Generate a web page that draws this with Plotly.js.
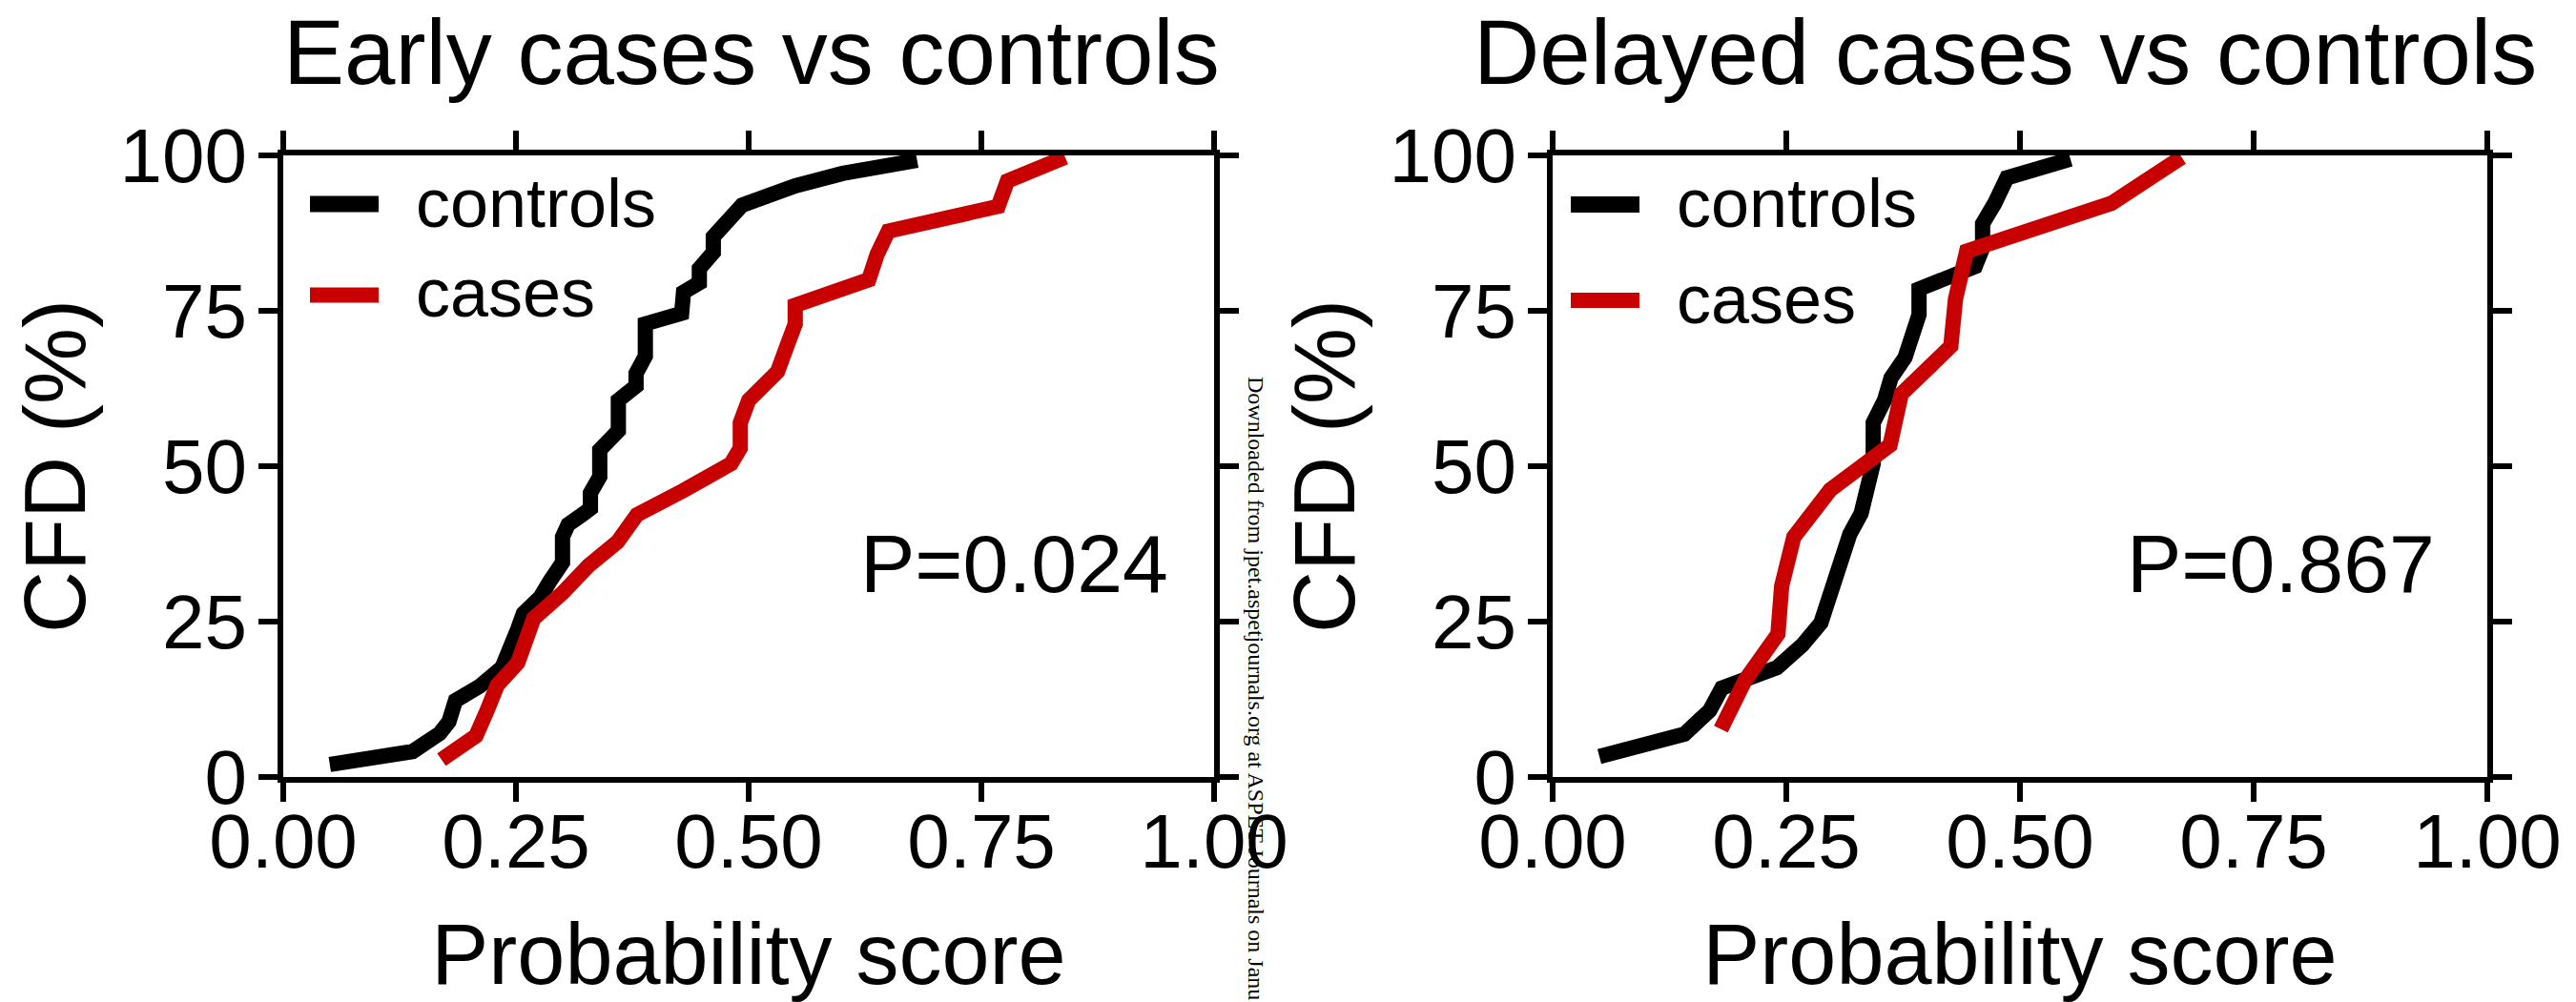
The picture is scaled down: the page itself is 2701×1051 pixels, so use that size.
<!DOCTYPE html>
<html>
<head>
<meta charset="utf-8">
<script src="https://cdn.plot.ly/plotly-3.0.1.min.js"></script>
<style>html,body{margin:0;padding:0;background:#fff;}#chart{width:2701px;height:1051px;}</style>
</head>
<body>
<div id="chart"></div>
<script>
// ---------------- data ----------------
const panelTitles = ['Early cases vs controls', 'Delayed cases vs controls'];
const pValueLabels = ['P=0.024', 'P=0.867'];
const seriesNames = ['controls', 'cases'];
const xAxisTitle = 'Probability score';
const yAxisTitle = 'CFD (%)';
const xTickValues = [0, 0.25, 0.5, 0.75, 1];
const xTickLabels = ['0.00', '0.25', '0.50', '0.75', '1.00'];
const yTickValues = [0, 25, 50, 75, 100];
const yTickLabels = ['0', '25', '50', '75', '100'];
const watermarkText = 'Downloaded from jpet.aspetjournals.org at ASPET Journals on Janu';

// Early cases vs controls
const earlyControlsScore = [0.050, 0.139, 0.168, 0.178, 0.185, 0.211, 0.235, 0.238, 0.243, 0.252, 0.258, 0.276, 0.286, 0.296, 0.300, 0.300, 0.306, 0.323, 0.330, 0.330, 0.339, 0.340, 0.340, 0.360, 0.360, 0.379, 0.379, 0.389, 0.389, 0.428, 0.430, 0.447, 0.447, 0.462, 0.462, 0.488, 0.493, 0.550, 0.601, 0.681];
const earlyControlsCFD   = [2.0, 4.1, 7.0, 8.9, 12.3, 14.6, 17.6, 18.9, 21.7, 23.8, 26.3, 28.9, 31.4, 33.5, 34.5, 38.6, 40.6, 42.4, 43.2, 45.7, 47.3, 48.3, 52.6, 55.7, 60.6, 62.9, 64.9, 67.7, 72.9, 74.6, 78.0, 79.5, 81.8, 84.4, 86.9, 91.3, 92.0, 95.1, 97.1, 99.2];
const earlyCasesScore = [0.170, 0.207, 0.219, 0.230, 0.252, 0.260, 0.269, 0.300, 0.328, 0.359, 0.380, 0.429, 0.481, 0.491, 0.491, 0.500, 0.531, 0.541, 0.550, 0.550, 0.629, 0.638, 0.650, 0.768, 0.778, 0.840];
const earlyCasesCFD   = [2.8, 6.6, 10.7, 14.8, 18.4, 22.7, 25.5, 29.6, 34.0, 37.8, 42.2, 46.0, 50.4, 52.9, 57.0, 60.6, 65.2, 69.3, 72.9, 75.9, 80.0, 84.1, 87.8, 91.8, 95.9, 99.7];

// Delayed cases vs controls
const delayedControlsScore = [0.050, 0.141, 0.168, 0.181, 0.240, 0.267, 0.287, 0.294, 0.301, 0.310, 0.318, 0.330, 0.335, 0.343, 0.343, 0.343, 0.355, 0.362, 0.377, 0.385, 0.392, 0.392, 0.452, 0.460, 0.460, 0.473, 0.486, 0.554];
const delayedControlsCFD   = [3.3, 6.9, 10.7, 14.3, 17.6, 21.2, 24.8, 28.4, 31.9, 36.0, 39.1, 42.4, 46.2, 50.4, 53.6, 57.0, 60.6, 64.2, 67.5, 71.3, 74.4, 78.5, 82.1, 85.1, 89.0, 92.3, 96.4, 99.4];
const delayedCasesScore = [0.180, 0.206, 0.241, 0.245, 0.258, 0.297, 0.361, 0.373, 0.426, 0.431, 0.443, 0.598, 0.673];
const delayedCasesCFD   = [7.7, 15.6, 23.0, 30.7, 38.6, 46.2, 53.4, 61.6, 69.3, 76.9, 84.6, 92.3, 99.7];

// ---------------- styling / layout ----------------
const W = 2701, H = 1051;
const FONT = 'Liberation Sans, Arial, Helvetica, sans-serif';
const SERIF = 'Liberation Serif, Times New Roman, serif';
const BLACK = '#000000';
const RED = '#c80000';
const LINE_W = 16;

const yDom = [(H - 815) / H, (H - 163) / H];
const xDomL = [297 / W, 1273 / W];
const xDomR = [1628 / W, 2608 / W];

function axis(extra) {
  return Object.assign({
    showline: true, linecolor: BLACK, linewidth: 6, mirror: 'ticks',
    ticks: 'outside', ticklen: 20, tickwidth: 6, tickcolor: BLACK,
    showgrid: false, zeroline: false, fixedrange: true,
    tickfont: {family: FONT, size: 80, color: BLACK}
  }, extra);
}
function xAx(domain, anchor) {
  return axis({domain: domain, anchor: anchor, range: [0, 1], tickmode: 'array',
    tickvals: xTickValues, ticktext: xTickLabels, ticklabelstandoff: -27,
    title: {text: xAxisTitle, font: {family: FONT, size: 90, color: BLACK}, standoff: 57}});
}
function yAx(anchor) {
  return axis({domain: yDom, anchor: anchor, range: [0, 100], tickmode: 'array',
    tickvals: yTickValues, ticktext: yTickLabels, ticklabelstandoff: -4,
    title: {text: yAxisTitle, font: {family: FONT, size: 90, color: BLACK}, standoff: 8}});
}

function line(x, y, color, xa, ya, name) {
  return {x: x, y: y, name: name, mode: 'lines', type: 'scatter', xaxis: xa, yaxis: ya,
    line: {color: color, width: LINE_W}, showlegend: false, hoverinfo: 'skip'};
}

const data = [
  line(earlyControlsScore, earlyControlsCFD, BLACK, 'x', 'y', seriesNames[0]),
  line(earlyCasesScore, earlyCasesCFD, RED, 'x', 'y', seriesNames[1]),
  line(delayedControlsScore, delayedControlsCFD, BLACK, 'x2', 'y2', seriesNames[0]),
  line(delayedCasesScore, delayedCasesCFD, RED, 'x2', 'y2', seriesNames[1])
];

function legendShapes(xr, yr, x0, x1, yc, yr2) {
  return [
    {type: 'line', xref: xr, yref: yr, x0: x0, x1: x1, y0: yc, y1: yc, line: {color: BLACK, width: 17}},
    {type: 'line', xref: xr, yref: yr, x0: x0, x1: x1, y0: yr2, y1: yr2, line: {color: RED, width: 16}}
  ];
}
function legendText(xr, yr, x, y1, y2) {
  return [
    {xref: xr, yref: yr, x: x, y: y1, xanchor: 'left', yanchor: 'middle', showarrow: false,
     text: seriesNames[0], font: {family: FONT, size: 72, color: BLACK}},
    {xref: xr, yref: yr, x: x, y: y2, xanchor: 'left', yanchor: 'middle', showarrow: false,
     text: seriesNames[1], font: {family: FONT, size: 72, color: BLACK}}
  ];
}

const annotations = [
  {xref: 'paper', yref: 'paper', x: 788 / W, y: 1 - 54 / H, xanchor: 'center', yanchor: 'middle', showarrow: false,
   text: panelTitles[0], font: {family: FONT, size: 96, color: BLACK}},
  {xref: 'paper', yref: 'paper', x: 2102 / W, y: 1 - 54 / H, xanchor: 'center', yanchor: 'middle', showarrow: false,
   text: panelTitles[1], font: {family: FONT, size: 96, color: BLACK}},
  {xref: 'x domain', yref: 'y domain', x: 0.953, y: 0.343, xanchor: 'right', yanchor: 'middle', showarrow: false,
   text: pValueLabels[0], font: {family: FONT, size: 86, color: BLACK}},
  {xref: 'x2 domain', yref: 'y2 domain', x: 0.946, y: 0.343, xanchor: 'right', yanchor: 'middle', showarrow: false,
   text: pValueLabels[1], font: {family: FONT, size: 86, color: BLACK}},
  {xref: 'paper', yref: 'paper', x: 1317 / W, y: 1 - 393 / H, xanchor: 'center', yanchor: 'top', showarrow: false,
   textangle: 90, text: watermarkText, font: {family: SERIF, size: 24, color: BLACK}}
].concat(legendText('x domain', 'y domain', 0.140, 0.9233, 0.779))
 .concat(legendText('x2 domain', 'y2 domain', 0.1306, 0.9233, 0.768));

const shapes = legendShapes('x domain', 'y domain', 0.0287, 0.1025, 0.9218, 0.7753)
  .concat(legendShapes('x2 domain', 'y2 domain', 0.0194, 0.0929, 0.921, 0.767));

const layout = {
  width: W, height: H, autosize: false,
  margin: {l: 0, r: 0, t: 0, b: 0, pad: 0},
  paper_bgcolor: '#ffffff', plot_bgcolor: '#ffffff',
  font: {family: FONT, color: BLACK},
  showlegend: false,
  xaxis: xAx(xDomL, 'y'),
  yaxis: yAx('x'),
  xaxis2: xAx(xDomR, 'y2'),
  yaxis2: yAx('x2'),
  annotations: annotations,
  shapes: shapes
};

Plotly.newPlot('chart', data, layout, {staticPlot: true, displayModeBar: false});
</script>
</body>
</html>
